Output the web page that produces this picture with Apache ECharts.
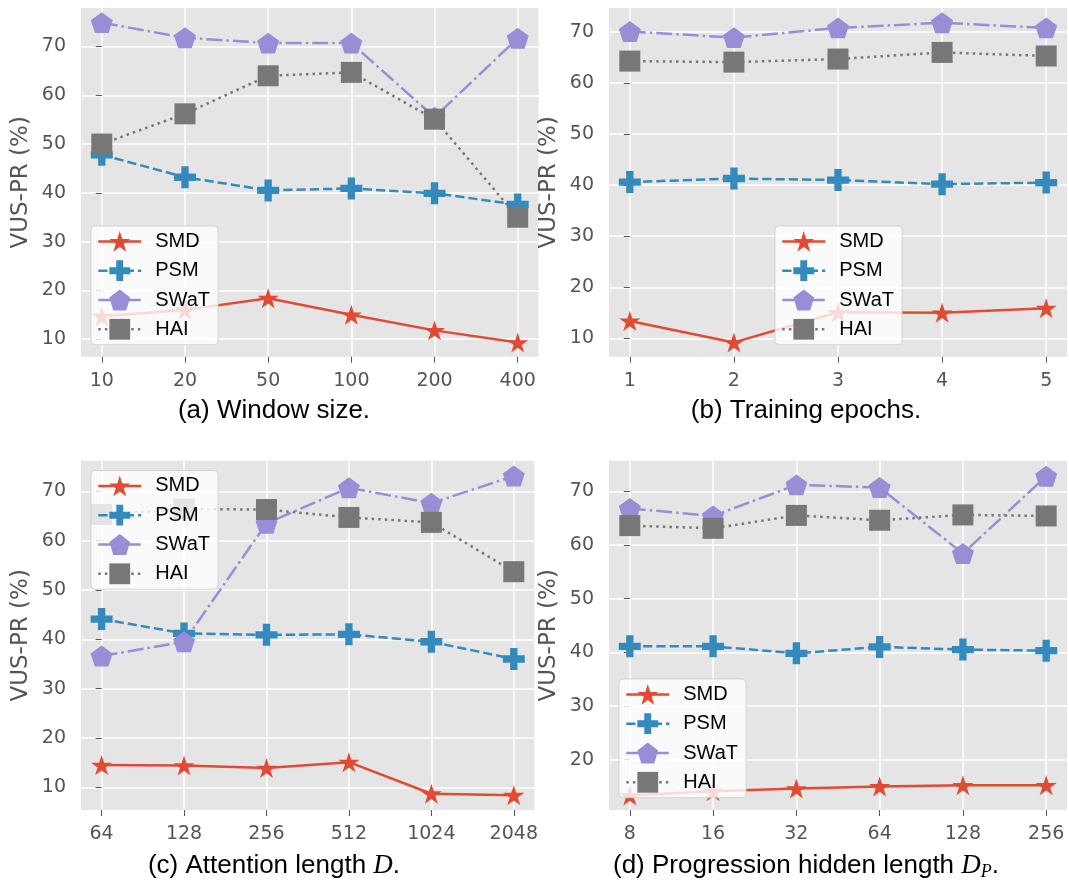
<!DOCTYPE html>
<html>
<head>
<meta charset="utf-8">
<script src="https://cdn.jsdelivr.net/npm/echarts@6/dist/echarts.min.js"></script>
<style>html,body{margin:0;padding:0;background:#fff;}#c{width:1069px;height:886px;}</style>
</head>
<body>
<div id="c"></div>
<script>
// ---- data ----
const seriesNames = ['SMD', 'PSM', 'SWaT', 'HAI'];
const yTicksABC = [10, 20, 30, 40, 50, 60, 70];
const yTicksD = [20, 30, 40, 50, 60, 70];

const catsA = ['10', '20', '50', '100', '200', '400'];
const a_SMD  = [14.7, 16.0, 18.4, 15.0, 11.8, 9.3];
const a_PSM  = [47.8, 43.2, 40.5, 40.9, 39.9, 37.6];
const a_SWaT = [74.9, 71.8, 70.7, 70.7, 55.5, 71.7];
const a_HAI  = [50.0, 56.2, 64.0, 64.7, 55.1, 35.0];

const catsB = ['1', '2', '3', '4', '5'];
const b_SMD  = [13.4, 9.2, 15.1, 15.0, 15.9];
const b_PSM  = [40.6, 41.3, 41.0, 40.2, 40.5];
const b_SWaT = [70.1, 68.9, 70.8, 71.8, 70.8];
const b_HAI  = [64.3, 64.1, 64.7, 66.0, 65.3];

const catsC = ['64', '128', '256', '512', '1024', '2048'];
const c_SMD  = [14.5, 14.4, 13.9, 15.1, 8.7, 8.4];
const c_PSM  = [44.1, 41.2, 40.9, 41.0, 39.5, 36.0];
const c_SWaT = [36.6, 39.5, 63.5, 70.7, 67.6, 73.1];
const c_HAI  = [65.3, 66.4, 66.3, 64.7, 63.7, 53.7];

const catsD = ['8', '16', '32', '64', '128', '256'];
const d_SMD  = [13.3, 14.1, 14.6, 15.0, 15.2, 15.2];
const d_PSM  = [41.1, 41.1, 39.8, 41.0, 40.5, 40.3];
const d_SWaT = [66.8, 65.4, 71.2, 70.7, 58.4, 72.8];
const d_HAI  = [63.6, 63.1, 65.5, 64.6, 65.6, 65.4];

// ---- styles ----
const STAR = 'path://M0,-100 L22.45,-30.9 L95.11,-30.9 L36.33,11.8 L58.78,80.9 L0,38.2 L-58.78,80.9 L-36.33,11.8 L-95.11,-30.9 L-22.45,-30.9 Z';
const PLUS = 'path://M-1,-3 L-1,-1 L-3,-1 L-3,1 L-1,1 L-1,3 L1,3 L1,1 L3,1 L3,-1 L1,-1 L1,-3 Z';
const PENT = 'path://M0,-100 L95.11,-30.9 L58.78,80.9 L-58.78,80.9 L-95.11,-30.9 Z';
const LW = 2.5;
const styles = {
  SMD:  {color: '#E24A33', symbol: STAR, size: 21, type: 'solid'},
  PSM:  {color: '#348ABD', symbol: PLUS, size: 22, type: [9.25, 4]},
  SWaT: {color: '#988ED5', symbol: PENT, size: 22, type: [16, 4, 2.5, 4]},
  HAI:  {color: '#777777', symbol: 'rect', size: 21, type: [2.5, 4.1]}
};

const panels = [
  {cats: catsA, vals: [a_SMD, a_PSM, a_SWaT, a_HAI], yMin: 6.4, yMax: 77.9, ticks: yTicksABC,
   grid: {left: 81, top: 8, width: 457.5, height: 348.7}, legend: {left: 91, top: 226},
   title: {text: '(a) Window size.', left: 274, top: 411}},
  {cats: catsB, vals: [b_SMD, b_PSM, b_SWaT, b_HAI], yMin: 6.4, yMax: 74.7, ticks: yTicksABC,
   grid: {left: 609, top: 8, width: 458, height: 348.7}, legend: {left: 775, top: 226},
   title: {text: '(b) Training epochs.', left: 806, top: 411}},
  {cats: catsC, vals: [c_SMD, c_PSM, c_SWaT, c_HAI], yMin: 5.4, yMax: 76.2, ticks: yTicksABC,
   grid: {left: 81, top: 460.7, width: 453.4, height: 349.3}, legend: {left: 91, top: 470.5},
   title: {text: '(c) Attention length {it|D}.', left: 274, top: 866}},
  {cats: catsD, vals: [d_SMD, d_PSM, d_SWaT, d_HAI], yMin: 10.6, yMax: 75.7, ticks: yTicksD,
   grid: {left: 609, top: 460.7, width: 458, height: 349.3}, legend: {left: 619, top: 679},
   title: {text: '(d) Progression hidden length {it|D}{sub|P}.', left: 806, top: 866}}
];

const option = {
  backgroundColor: '#ffffff',
  animation: false,
  grid: [], xAxis: [], yAxis: [], series: [], legend: [], title: []
};

panels.forEach((p, i) => {
  const n = p.cats.length;
  const pad = (n - 1) * 0.05;
  const idx = p.cats.map((_, j) => j);
  option.grid.push(Object.assign({show: true, backgroundColor: '#E5E5E5', borderWidth: 0}, p.grid));
  option.xAxis.push({
    type: 'value', gridIndex: i, min: -pad, max: n - 1 + pad,
    axisLine: {show: false},
    axisTick: {show: true, length: 6, customValues: idx, lineStyle: {color: '#555555', width: 1}},
    axisLabel: {customValues: idx, margin: 15, color: '#555555', fontSize: 19, fontFamily: 'DejaVu Sans',
      formatter: v => p.cats[Math.round(v)]},
    splitLine: {show: true, lineStyle: {color: '#ffffff', width: 1.5}}
  });
  option.yAxis.push({
    type: 'value', gridIndex: i, min: p.yMin, max: p.yMax,
    name: 'VUS-PR (%)', nameLocation: 'middle', nameGap: 48,
    nameTextStyle: {color: '#555555', fontSize: 23, fontFamily: 'DejaVu Sans'},
    axisLine: {show: false},
    axisTick: {show: true, length: 6, customValues: p.ticks, lineStyle: {color: '#555555', width: 1}},
    axisLabel: {customValues: p.ticks, margin: 15, color: '#555555', fontSize: 19, fontFamily: 'DejaVu Sans'},
    splitLine: {show: true, lineStyle: {color: '#ffffff', width: 1.5}}
  });
  seriesNames.forEach((name, k) => {
    const s = styles[name];
    option.series.push({
      type: 'line', name: name, xAxisIndex: i, yAxisIndex: i,
      data: p.vals[k].map((v, j) => [j, v]),
      symbol: s.symbol, symbolSize: s.size, symbolKeepAspect: true,
      lineStyle: {color: s.color, width: LW, type: s.type},
      itemStyle: {color: s.color},
      clip: false, silent: true, emphasis: {disabled: true}
    });
  });
  option.legend.push({
    left: p.legend.left, top: p.legend.top, orient: 'vertical',
    itemWidth: 43, itemHeight: 26, itemGap: 8.5, padding: [5, 8, 5, 6],
    backgroundColor: 'rgba(255,255,255,0.8)', borderColor: 'rgba(204,204,204,0.8)',
    borderWidth: 1, borderRadius: 4, selectedMode: false,
    lineStyle: {width: LW},
    textStyle: {fontFamily: 'Liberation Sans', fontSize: 20, color: '#000000', padding: [0, 0, 0, 9]},
    data: seriesNames
  });
  option.title.push({
    text: p.title.text, left: p.title.left, top: p.title.top, padding: 0,
    textAlign: 'center', textVerticalAlign: 'middle',
    textStyle: {fontFamily: 'Liberation Sans', fontSize: 26, fontWeight: 'normal', color: '#000000',
      rich: {
        it: {fontFamily: 'Liberation Serif', fontStyle: 'italic', fontSize: 27, color: '#000000'},
        sub: {fontFamily: 'Liberation Serif', fontStyle: 'italic', fontSize: 18, color: '#000000', padding: [12, 0, 0, 0]}
      }}
  });
});

const chart = echarts.init(document.getElementById('c'), null, {renderer: 'canvas'});
chart.setOption(option);
</script>
</body>
</html>
